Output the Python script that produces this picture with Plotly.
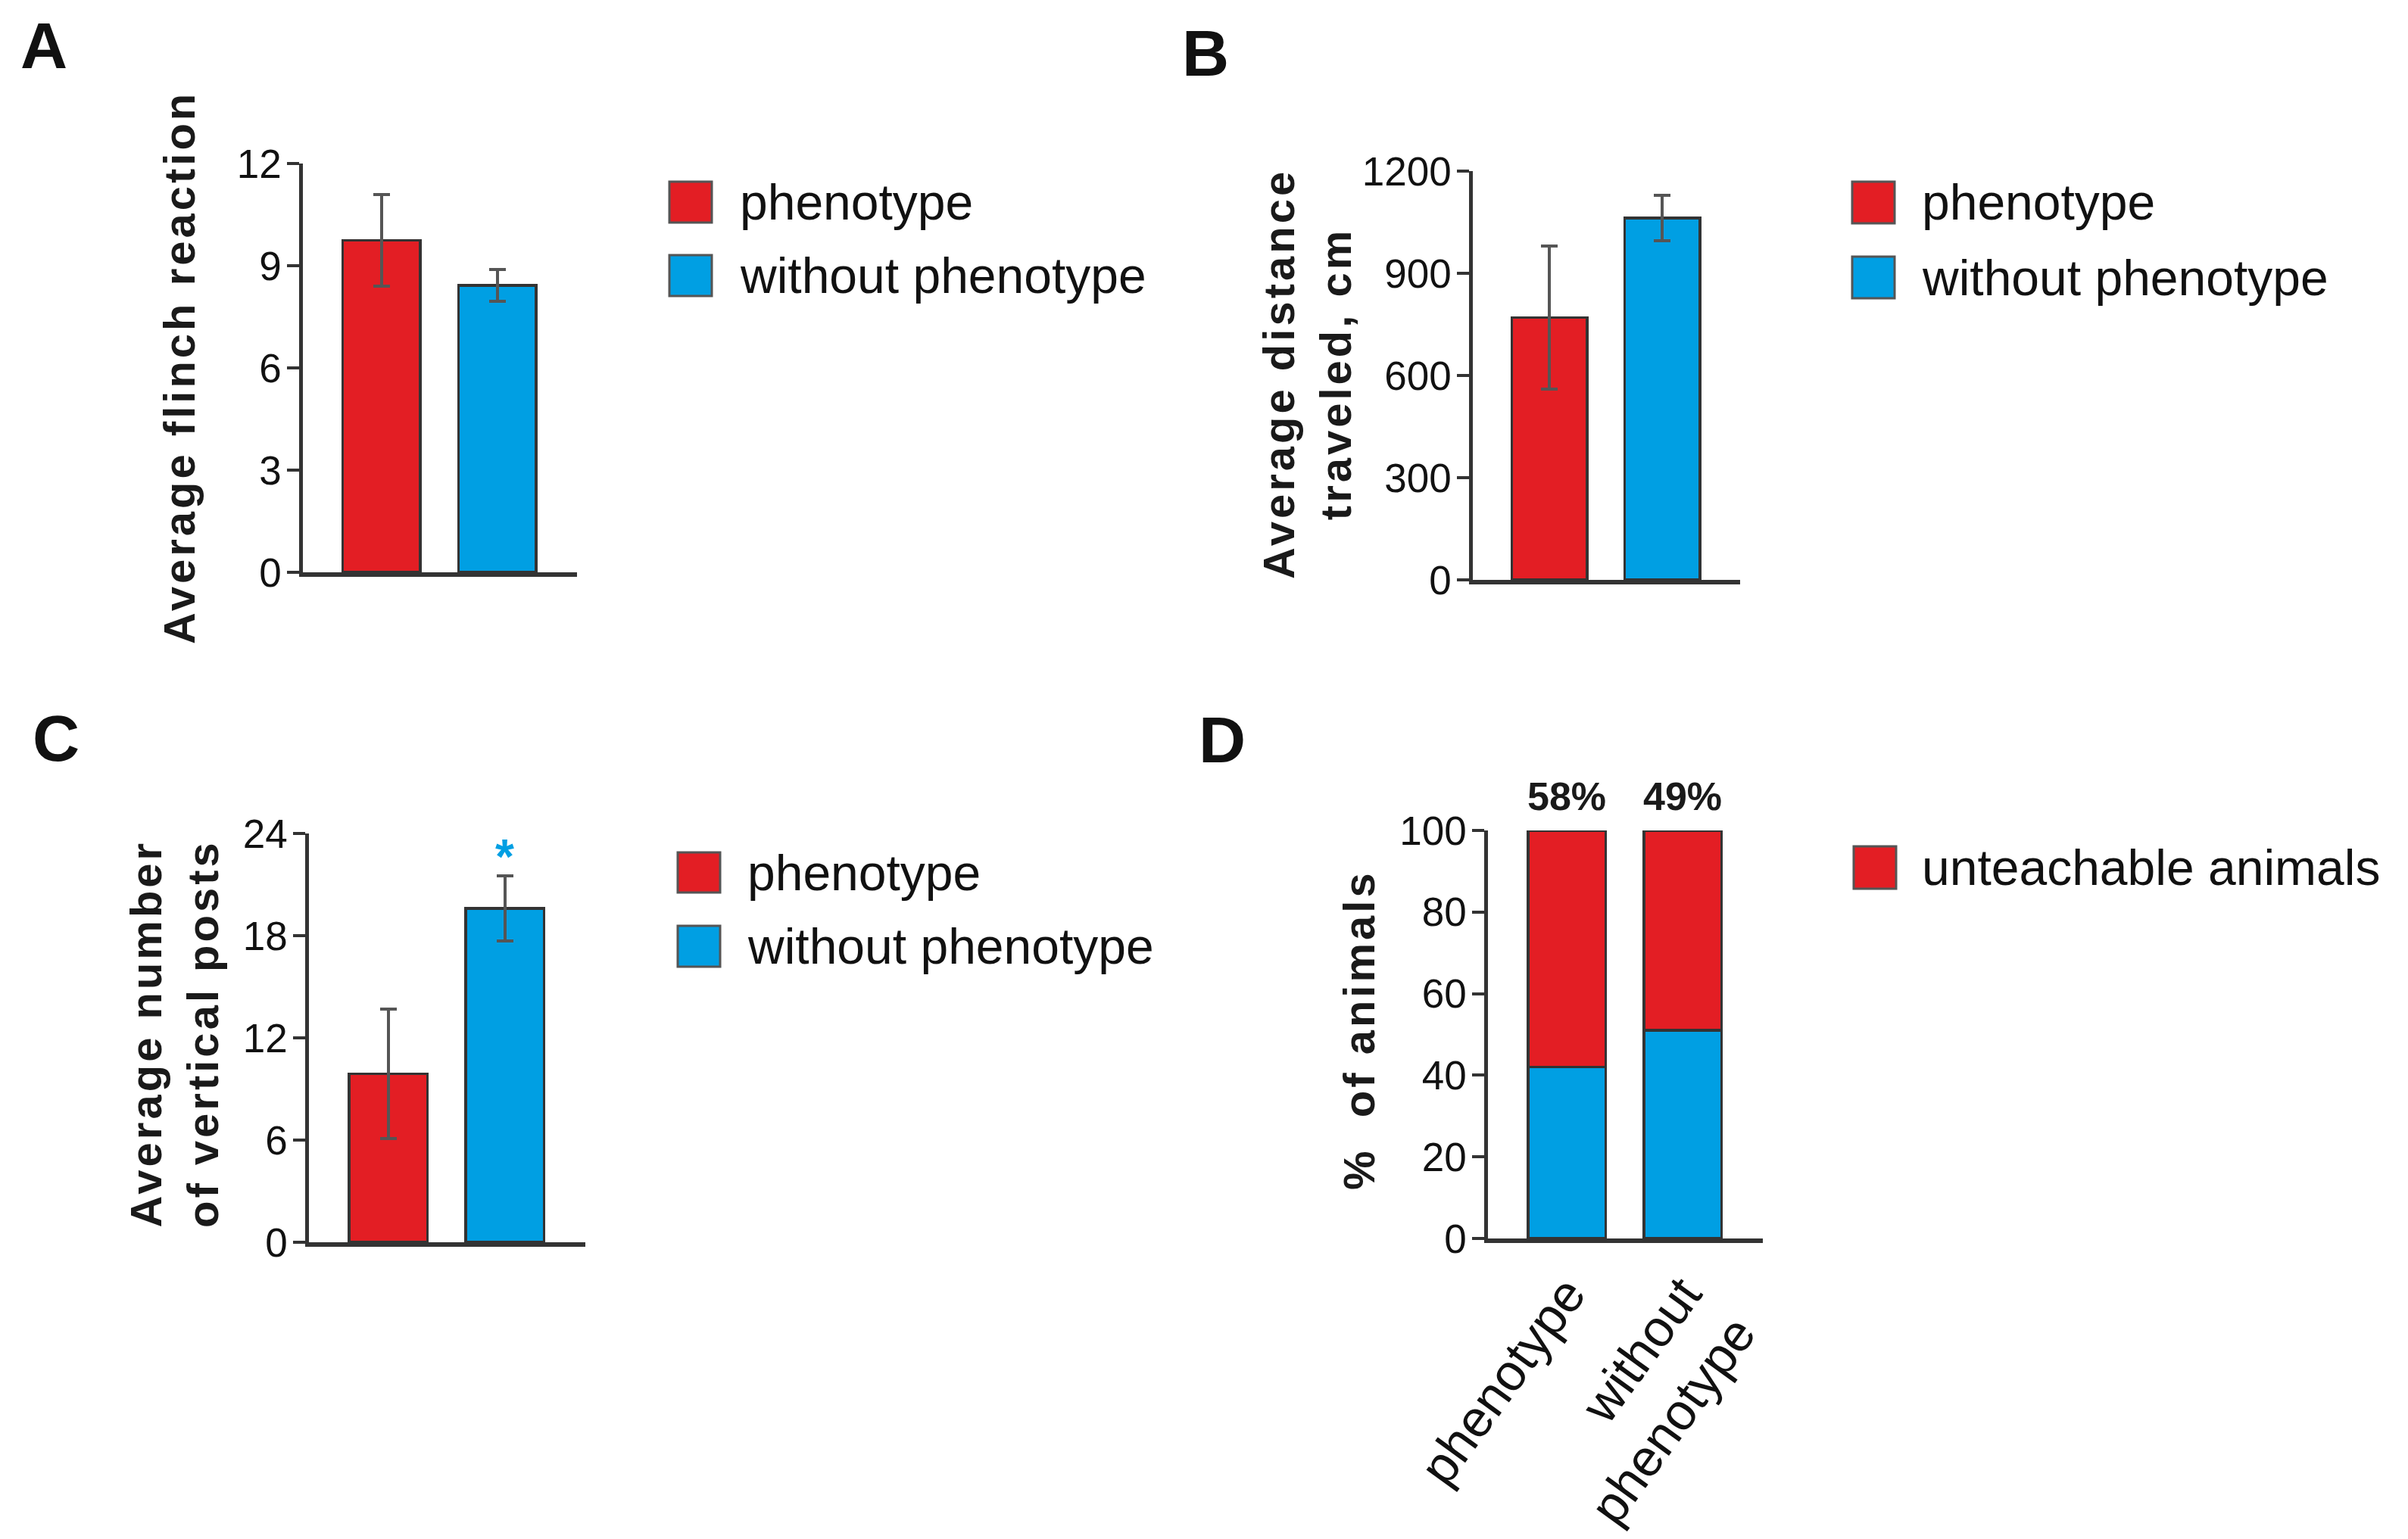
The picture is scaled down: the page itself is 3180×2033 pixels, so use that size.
import plotly.graph_objects as go

W, H = 3180, 2033
OFF = 8  # page body margin of the viewer

# data
categories = ["phenotype", "without phenotype"]

flinch_mean = [9.75, 8.42]
flinch_err = [1.35, 0.47]
flinch_ticks = [0, 3, 6, 9, 12]

distance_mean = [770, 1062]
distance_err = [210, 66]
distance_ticks = [0, 300, 600, 900, 1200]

posts_mean = [9.9, 19.6]
posts_err = [3.8, 1.9]
posts_ticks = [0, 6, 12, 18, 24]
posts_star = [None, 22.8]

teachable_pct = [42, 51]
unteachable_pct = [58, 49]
pct_ticks = [0, 20, 40, 60, 80, 100]

legend_labels_abc = categories
legend_label_d = "unteachable animals"

RED = "#E31E24"
BLUE = "#009FE3"
EDGE = "#333333"
FONT = "Liberation Sans, Arial, sans-serif"


def px(x):
    return (x - OFF) / W


def py(y):
    return 1 - (y - OFF) / H


def spaced(text, sp=4):
    return f'<span style="letter-spacing:{sp}px">{text}</span>'


fig = go.Figure()

# panel geometry in pixels: (x0, x1), (ytop, ybottom)
panels = {
    "A": dict(ax="", dx=(400, 762), dy=(216, 756)),
    "B": dict(ax="2", dx=(1945, 2298), dy=(226, 766)),
    "C": dict(ax="3", dx=(408, 773), dy=(1101, 1641)),
    "D": dict(ax="4", dx=(1965, 2328), dy=(1097, 1636)),
}

bar_common = dict(width=0.67, showlegend=False,
                  marker_line=dict(color=EDGE, width=3.5))
err_common = dict(type="data", color="#555555", thickness=4, width=11)

for key, means, errs in [("A", flinch_mean, flinch_err),
                         ("B", distance_mean, distance_err),
                         ("C", posts_mean, posts_err)]:
    ax = panels[key]["ax"]
    fig.add_trace(go.Bar(
        x=categories, y=means,
        marker_color=[RED, BLUE],
        error_y=dict(array=errs, **err_common),
        xaxis="x" + ax, yaxis="y" + ax, **bar_common))

# panel D stacked
fig.add_trace(go.Bar(x=categories, y=teachable_pct, marker_color=BLUE,
                     xaxis="x4", yaxis="y4", **bar_common))
fig.add_trace(go.Bar(x=categories, y=unteachable_pct, marker_color=RED,
                     xaxis="x4", yaxis="y4", **bar_common))

layout = dict(
    width=W, height=H,
    margin=dict(l=0, r=0, t=0, b=0, autoexpand=False),
    paper_bgcolor="white", plot_bgcolor="white",
    barmode="stack",
    font=dict(family=FONT, color="#1a1a1a"),
)

yticks = {"A": flinch_ticks, "B": distance_ticks, "C": posts_ticks, "D": pct_ticks}

for key, p in panels.items():
    ax = p["ax"]
    tv = yticks[key]
    layout["xaxis" + ax] = dict(
        domain=[px(p["dx"][0]), px(p["dx"][1])],
        anchor="y" + ax,
        range=[-0.68, 1.69],
        showline=True, linecolor=EDGE, linewidth=6,
        showgrid=False, zeroline=False, ticks="",
        showticklabels=(key == "D"),
        automargin=False,
    )
    layout["yaxis" + ax] = dict(
        domain=[py(p["dy"][1]), py(p["dy"][0])],
        anchor="x" + ax,
        range=[tv[0], tv[-1]],
        tickvals=tv,
        showline=True, linecolor=EDGE, linewidth=4.5,
        showgrid=False, zeroline=False,
        ticks="outside", ticklen=16, tickwidth=4, tickcolor=EDGE,
        ticklabelstandoff=-3,
        tickfont=dict(family=FONT, size=53, color="#111111"),
        automargin=False,
    )

layout["xaxis4"].update(
    tickvals=categories,
    ticktext=[c.replace(" ", "<br>") for c in categories],
    tickangle=-54,
    tickfont=dict(family=FONT, size=68, color="#111111"),
)

fig.update_layout(**layout)

annotations = []

# panel letters
for letter, (x, y) in {"A": (58, 60), "B": (1592, 70),
                       "C": (74, 975), "D": (1614, 977)}.items():
    annotations.append(dict(x=px(x), y=py(y), xref="paper", yref="paper",
                            text=letter, showarrow=False,
                            xanchor="center", yanchor="middle",
                            font=dict(family=FONT, size=86, weight="bold",
                                      color="#111111")))

# axis titles
titles = [
    ("Average flinch reaction", 236, 486),
    ("Average distance<br>traveled, cm", 1726, 494),
    ("Average number<br>of vertical posts", 230, 1366),
    ("%  of animals", 1794, 1361),
]
for text, x, y in titles:
    annotations.append(dict(x=px(x), y=py(y), xref="paper", yref="paper",
                            text=spaced(text), showarrow=False, textangle=-90,
                            xanchor="center", yanchor="middle",
                            font=dict(family=FONT, size=58, weight="bold",
                                      color="#1a1a1a")))

# percent labels above stacked bars
for cat, v in zip(categories, unteachable_pct):
    annotations.append(dict(x=cat, y=100, xref="x4", yref="y4",
                            text=f"{v}%", showarrow=False,
                            yanchor="bottom", yshift=14,
                            font=dict(family=FONT, size=52, weight="bold",
                                      color="#1a1a1a")))

# significance star
for cat, s in zip(categories, posts_star):
    if s is not None:
        annotations.append(dict(x=cat, y=s, xref="x3", yref="y3",
                                text="*", showarrow=False,
                                yanchor="middle", yshift=-4,
                                font=dict(family=FONT, size=64, weight="bold",
                                          color=BLUE)))

# manual legends (large swatches)
shapes = []
legend_sets = [
    (884, 975, [(240, 294), (337, 391)], legend_labels_abc, [RED, BLUE]),
    (2446, 2536, [(240, 295), (339, 394)], legend_labels_abc, [RED, BLUE]),
    (895, 985, [(1126, 1179), (1223, 1277)], legend_labels_abc, [RED, BLUE]),
    (2448, 2536, [(1118, 1174)], [legend_label_d], [RED]),
]
for sx, tx, rows, labels, cols in legend_sets:
    for (y0, y1), lab, col in zip(rows, labels, cols):
        shapes.append(dict(type="rect", xref="paper", yref="paper",
                           x0=px(sx), x1=px(sx + 56), y0=py(y1), y1=py(y0),
                           fillcolor=col, line=dict(color="#555555", width=3)))
        annotations.append(dict(x=px(tx), y=py((y0 + y1) / 2),
                                xref="paper", yref="paper", text=lab,
                                showarrow=False, xanchor="left",
                                yanchor="middle",
                                font=dict(family=FONT, size=66,
                                          color="#111111")))

fig.update_layout(annotations=annotations, shapes=shapes)

fig.write_html("out.html")
